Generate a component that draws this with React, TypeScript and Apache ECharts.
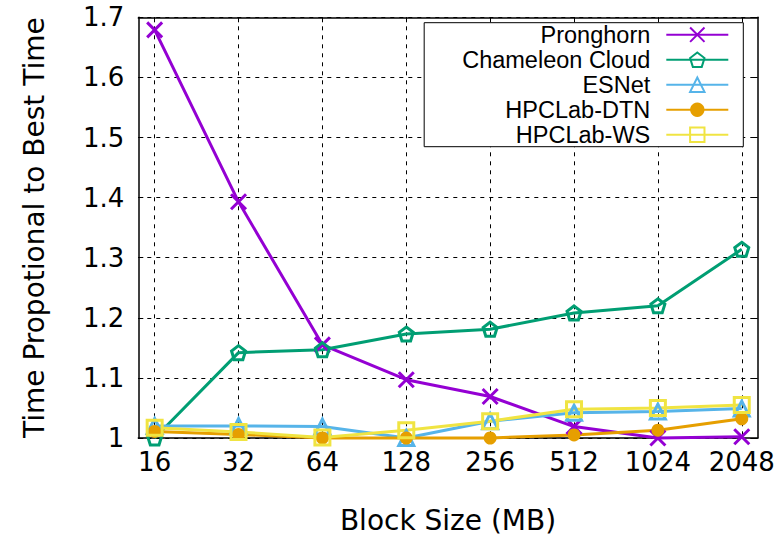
import React, { useEffect, useRef } from "react";
import * as echarts from "echarts";

const categories = ["16", "32", "64", "128", "256", "512", "1024", "2048"];
const seriesNames = ["Pronghorn", "Chameleon Cloud", "ESNet", "HPCLab-DTN", "HPCLab-WS"];
const pronghorn = [1.679, 1.393, 1.155, 1.097, 1.069, 1.019, 1.0, 1.002];
const chameleon = [1.0, 1.142, 1.147, 1.173, 1.181, 1.208, 1.22, 1.314];
const esnet = [1.02, 1.02, 1.019, 1.0, 1.028, 1.042, 1.044, 1.049];
const hpcDtn = [1.011, 1.006, 1.0, 1.0, 1.0, 1.005, 1.013, 1.032];
const hpcWs = [1.017, 1.01, 1.001, 1.013, 1.028, 1.048, 1.05, 1.055];
const yTicks = [1, 1.1, 1.2, 1.3, 1.4, 1.5, 1.6, 1.7];

const colors = ["#9400D3", "#009E73", "#56B4E9", "#E69F00", "#F0E442"];
const XSYM = "path://M0,0L10,10M10,0L0,10";
const PENT = "path://M0,-1L0.951,-0.309L0.588,0.809L-0.588,0.809L-0.951,-0.309Z";
const TRI = "path://M0,-1L0.866,0.5L-0.866,0.5Z";
const SQR = "path://M0,0L10,0L10,10L0,10Z";

export default function App() {
  const ref = useRef<HTMLDivElement>(null);
  useEffect(() => {
    const chart = echarts.init(ref.current!, null, { renderer: "svg" });
    const idx = categories.map((_, i) => i);
    const values = [pronghorn, chameleon, esnet, hpcDtn, hpcWs];
    const symbols = [XSYM, PENT, TRI, "circle", SQR];
    const sizes = [15, 14, 15, 13, 15];
    const filled = [false, false, false, true, false];
    const axisFont = { fontFamily: "DejaVu Sans", fontSize: 26, color: "#000" };
    const nameFont = { fontFamily: "DejaVu Sans", fontSize: 28, color: "#000" };
    const series = values.map((vals, s) => ({
      name: seriesNames[s],
      type: "line",
      xAxisIndex: 0,
      yAxisIndex: 0,
      data: vals.map((v, i) => [i, v]),
      symbol: symbols[s],
      symbolSize: sizes[s],
      showAllSymbol: true,
      clip: false,
      lineStyle: { color: colors[s], width: 3 },
      itemStyle: filled[s]
        ? { color: colors[s], borderColor: colors[s], borderWidth: 0 }
        : { color: "rgba(0,0,0,0)", borderColor: colors[s], borderWidth: 3 },
      emphasis: { disabled: true },
    }));
    chart.setOption({
      animation: false,
      backgroundColor: "#fff",
      grid: { left: 138.3, right: 20.3, top: 17.3, bottom: 104, show: false },
      legend: {
        orient: "vertical",
        align: "right",
        right: 34.7,
        top: 22.7,
        padding: [0, 14, 0, 38],
        itemWidth: 62,
        itemHeight: 18,
        itemGap: 1,
        backgroundColor: "#fff",
        borderColor: "#000",
        borderWidth: 1,
        borderRadius: 0,
        data: seriesNames,
        textStyle: {
          fontFamily: "Liberation Sans",
          fontSize: 23.5,
          color: "#000",
          lineHeight: 20,
          padding: [0, 11, 0, 0],
        },
      },
      xAxis: [
        {
          type: "value",
          min: -0.195,
          max: 7.19,
          name: "Block Size (MB)",
          nameLocation: "middle",
          nameGap: 68,
          nameTextStyle: nameFont,
          axisLine: { show: true, onZero: false, lineStyle: { color: "#000", width: 1.5 } },
          axisTick: { show: true, inside: true, length: 5, customValues: idx, lineStyle: { color: "#000" } },
          axisLabel: {
            ...axisFont,
            margin: 11,
            customValues: idx,
            formatter: (v: number) => categories[Math.round(v)] ?? "",
          },
          splitLine: { show: true, lineStyle: { color: "#000", type: [4, 5], width: 1 } },
        },
        {
          type: "value",
          position: "top",
          min: -0.195,
          max: 7.19,
          axisLine: { show: true, onZero: false, lineStyle: { color: "#000", width: 1.5 } },
          axisTick: { show: true, inside: true, length: 5, customValues: idx, lineStyle: { color: "#000" } },
          axisLabel: { show: false, customValues: idx },
          splitLine: { show: false },
        },
      ],
      yAxis: [
        {
          type: "value",
          min: 1,
          max: 1.7,
          interval: 0.1,
          name: "Time Propotional to Best Time",
          nameLocation: "middle",
          nameGap: 90,
          nameTextStyle: nameFont,
          axisLine: { show: true, onZero: false, lineStyle: { color: "#000", width: 1.5 } },
          axisTick: { show: true, inside: true, length: 5, customValues: yTicks, lineStyle: { color: "#000" } },
          axisLabel: {
            ...axisFont,
            margin: 14,
            customValues: yTicks,
            formatter: (v: number) => String(Math.round(v * 10) / 10),
          },
          splitLine: { show: true, lineStyle: { color: "#000", type: [4, 5], width: 1 } },
        },
        {
          type: "value",
          position: "right",
          min: 1,
          max: 1.7,
          interval: 0.1,
          axisLine: { show: true, onZero: false, lineStyle: { color: "#000", width: 1.5 } },
          axisTick: { show: true, inside: true, length: 5, customValues: yTicks, lineStyle: { color: "#000" } },
          axisLabel: { show: false },
          splitLine: { show: false },
        },
      ],
      series,
    });
    return () => chart.dispose();
  }, []);
  return <div ref={ref} style={{ width: 778, height: 542, position: "absolute", left: 0, top: 0 }} />;
}
